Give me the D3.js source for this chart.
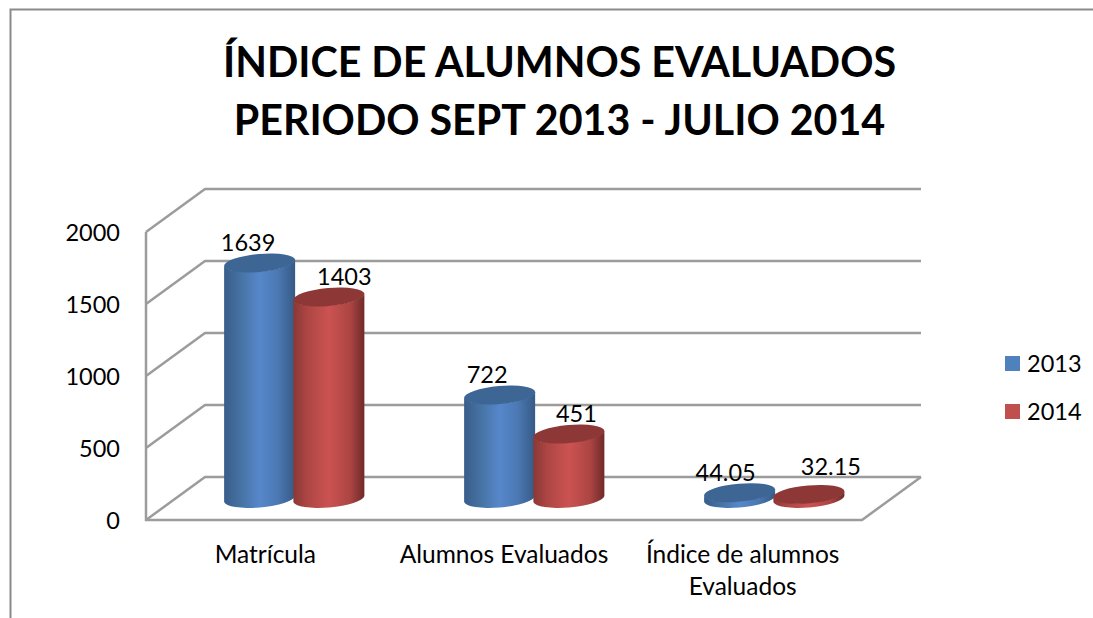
<!DOCTYPE html>
<html>
<head>
<meta charset="utf-8">
<script src="https://cdn.jsdelivr.net/npm/d3@7"></script>
<style>
  html, body { margin: 0; padding: 0; background: white; }
  text { font-family: Lato, "Open Sans", sans-serif; fill: black; }
</style>
</head>
<body>
<div id="container"></div>
<script>
let titleLines = ["ÍNDICE DE ALUMNOS EVALUADOS", "PERIODO SEPT 2013 - JULIO 2014"];
let categories = ["Matrícula", "Alumnos Evaluados", "Índice de alumnos Evaluados"];
let seriesNames = ["2013", "2014"];
let values2013 = [1639, 722, 44.05];
let values2014 = [1403, 451, 32.15];
let yTicks = [0, 500, 1000, 1500, 2000];

let w = 1093;
let h = 618;
let viz = d3.select("#container").append("svg")
                                    .attr("width", w)
                                    .attr("height", h)
                                    .style("display", "block")
                                    .style("background-color", "white")
;

// outer frame, only top and left are visible in the picture
viz.append("path").attr("d", "M10.5,618V9.5H1093").attr("fill", "none").attr("stroke", "#8a8a8a").attr("stroke-width", 2);

// title
viz.selectAll(".title").data(titleLines).enter().append("text")
    .attr("class", "title")
    .attr("x", 559.5)
    .attr("y", (d, i) => 76.5 + i * 58.5)
    .attr("text-anchor", "middle")
    .attr("font-size", 41.2)
    .attr("font-weight", "bold")
    .text(d => d);

// front plane of the box and how far the back plane is pushed
let frontLeft = 146;
let frontRight = 862;
let depthX = 59;
let depthY = -43;

let yScale = d3.scaleLinear().domain([0, 2000]).range([520, 232]);
let xScale = d3.scaleBand().domain(categories).range([frontLeft, frontRight]);
// cylinders stand halfway into the box, with a slightly wider step than the labels
let barScale = d3.scaleBand().domain(categories).range([174, 894]);
let seriesScale = d3.scaleBand().domain(seriesNames).range([0, 138.5]);

// walls
let gridColor = "#9c9c9c";
let walls = viz.append("g").attr("fill", "none").attr("stroke", gridColor).attr("stroke-width", 2.5);
yTicks.forEach(t => {
    let y = yScale(t);
    walls.append("path").attr("d", d3.line()([
        [frontLeft, y],
        [frontLeft + depthX, y + depthY],
        [w - 172, y + depthY]
    ]));
});
walls.append("path").attr("d", d3.line()([
    [frontLeft, yScale(2000)],
    [frontLeft, yScale(0)],
    [frontRight, yScale(0)],
    [frontRight + depthX, yScale(0) + depthY]
]));

// y axis labels
let yAxis = d3.axisLeft(yScale).tickValues(yTicks).tickSize(0).tickPadding(26).tickFormat(d3.format("d"));
let yAxisGroup = viz.append("g").attr("class", "yAxis").attr("transform", "translate(" + frontLeft + ", 1)");
yAxisGroup.call(yAxis);
yAxisGroup.select(".domain").remove();
yAxisGroup.selectAll("text").attr("font-size", 23.5).attr("font-family", "Lato").attr("fill", "black");

// category labels, the last one wraps
let xLabels = viz.append("g");
categories.forEach(c => {
    let cx = xScale(c) + xScale.bandwidth() / 2;
    let lines = c == "Índice de alumnos Evaluados" ? ["Índice de alumnos", "Evaluados"] : [c];
    lines.forEach((line, i) => {
        xLabels.append("text")
            .attr("x", cx)
            .attr("y", 563 + i * 32)
            .attr("text-anchor", "middle")
            .attr("font-size", 24.5)
            .text(line);
    });
});

// gradients for the cylinders
let defs = viz.append("defs");
function makeGradient(id, stops){
    let g = defs.append("linearGradient").attr("id", id).attr("x1", "0").attr("x2", "1").attr("y1", "0").attr("y2", "0");
    stops.forEach(s => g.append("stop").attr("offset", s[0]).attr("stop-color", s[1]));
}
makeGradient("blueBody", [[0, "#385d8a"], [0.2, "#44709f"], [0.5, "#5687ca"], [0.75, "#4c79b4"], [1, "#355a85"]]);
makeGradient("redBody", [[0, "#8c3836"], [0.2, "#ad4644"], [0.5, "#cb5351"], [0.8, "#ac4543"], [1, "#6f2a29"]]);
let topColors = { "2013": "#3d6695", "2014": "#8d3837" };
let bodyFills = { "2013": "url(#blueBody)", "2014": "url(#redBody)" };

let rx = 35.7;
let ry = 9;
let tilt = -5;
let dxEnd = 35.5;
let dyEnd = -3;
let baseShift = 21;

let labelNudge = {
    "2013": [{x: -11.5, y: -20}, {x: -12.5, y: -20}, {x: -14, y: -20}],
    "2014": [{x: 15.5, y: -20}, {x: 7.5, y: -20}, {x: 22, y: -28}]
};

let rows = [
    { name: "2013", values: values2013 },
    { name: "2014", values: values2014 }
];

function barCenter(c, name){
    return barScale(c) + barScale.bandwidth() / 2 - 69 + seriesScale(name) + seriesScale.bandwidth() / 2;
}

rows.forEach(row => {
    row.values.forEach((v, i) => {
        let cx = barCenter(categories[i], row.name);
        let yBase = yScale(0) - baseShift;
        let yTop = yScale(v) - baseShift;

        let body = "M" + (cx - dxEnd) + "," + (yTop - dyEnd)
            + "L" + (cx - dxEnd) + "," + (yBase - dyEnd)
            + "A" + rx + "," + ry + " " + tilt + " 0 0 " + (cx + dxEnd) + "," + (yBase + dyEnd)
            + "L" + (cx + dxEnd) + "," + (yTop + dyEnd)
            + "A" + rx + "," + ry + " " + tilt + " 0 1 " + (cx - dxEnd) + "," + (yTop - dyEnd) + "Z";
        viz.append("path").attr("class", "bar").attr("d", body).attr("fill", bodyFills[row.name]);

        viz.append("ellipse")
            .attr("rx", rx).attr("ry", ry)
            .attr("transform", "translate(" + cx + "," + yTop + ") rotate(" + tilt + ")")
            .attr("fill", topColors[row.name]);
    });
});

// value labels go last so they stay on top
rows.forEach(row => {
    row.values.forEach((v, i) => {
        let cx = barCenter(categories[i], row.name);
        let n = labelNudge[row.name][i];
        viz.append("text")
            .attr("x", cx + n.x)
            .attr("y", yScale(v) - baseShift + n.y)
            .attr("dy", "0.35em")
            .attr("text-anchor", "middle")
            .attr("font-size", 23.5)
            .text(v);
    });
});

// legend
let legendColors = { "2013": "#4f81bd", "2014": "#c0504d" };
let legend = viz.selectAll(".legendItem").data(seriesNames).enter().append("g")
    .attr("class", "legendItem")
    .attr("transform", (d, i) => "translate(1005," + (356 + i * 48) + ")");
legend.append("rect").attr("width", 15).attr("height", 15).attr("fill", d => legendColors[d]);
legend.append("text").attr("x", 22).attr("y", 16).attr("font-size", 23.5).text(d => d);
</script>
</body>
</html>
